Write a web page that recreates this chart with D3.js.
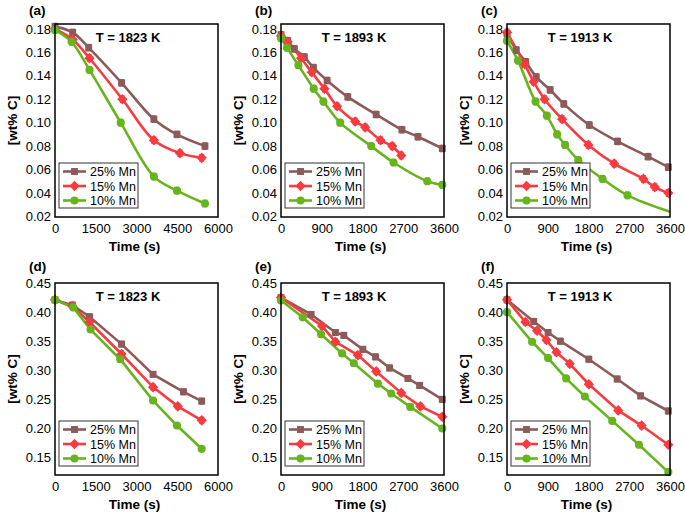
<!DOCTYPE html>
<html>
<head>
<meta charset="utf-8">
<script src="https://cdn.jsdelivr.net/npm/d3@7"></script>
<style>
  body { margin: 0; background: #fff; }
  text { font-family: "Liberation Sans", Arial, sans-serif; }
</style>
</head>
<body>
<div id="chart"></div>
<script>
// series + styling names
const seriesNames = ["25% Mn", "15% Mn", "10% Mn"];
const seriesColors = ["#8d5a5a", "#f73b40", "#68b41f"];
const panelLabels = ["(a)", "(b)", "(c)", "(d)", "(e)", "(f)"];
const tempLabels = ["T = 1823 K", "T = 1893 K", "T = 1913 K", "T = 1823 K", "T = 1893 K", "T = 1913 K"];

// tick labels
const xTicks6000 = [0, 1500, 3000, 4500, 6000];
const xTicks3600 = [0, 900, 1800, 2700, 3600];
const yTicksTop = [0.02, 0.04, 0.06, 0.08, 0.10, 0.12, 0.14, 0.16, 0.18];
const yTicksBottom = [0.15, 0.20, 0.25, 0.30, 0.35, 0.40, 0.45];

// (a) 1823 K, low C
const a25 = [[0,0.182],[650,0.177],[1240,0.164],[2450,0.134],[3640,0.103],[4490,0.090],[5520,0.080]];
const a15 = [[0,0.180],[650,0.171],[1270,0.155],[2480,0.120],[3640,0.085],[4600,0.074],[5400,0.070]];
const a10 = [[0,0.179],[610,0.169],[1270,0.145],[2420,0.100],[3640,0.054],[4490,0.042],[5520,0.031]];
// (b) 1893 K, low C
const b25 = [[0,0.175],[148,0.170],[295,0.163],[516,0.156],[716,0.147],[1018,0.136],[1475,0.122],[2102,0.107],[2670,0.094],[3025,0.088],[3563,0.078]];
const b15 = [[0,0.174],[148,0.169],[443,0.155],[679,0.143],[959,0.129],[1239,0.114],[1638,0.101],[1859,0.096],[2198,0.085],[2456,0.080],[2656,0.072]];
const b10 = [[0,0.172],[133,0.164],[384,0.149],[723,0.129],[937,0.118],[1306,0.100],[1992,0.080],[2486,0.066],[3231,0.050],[3563,0.047]];
// (c) 1913 K, low C
const c25 = [[0,0.176],[205,0.162],[411,0.152],[645,0.139],[953,0.128],[1254,0.116],[1818,0.098],[2441,0.084],[3116,0.071],[3563,0.062]];
const c15 = [[0,0.177],[389,0.150],[587,0.135],[829,0.120],[1217,0.103],[1796,0.081],[2368,0.065],[3013,0.052],[3263,0.045],[3563,0.040]];
const c10 = [[0,0.170],[242,0.153],[631,0.118],[880,0.106],[1107,0.090],[1283,0.081],[1576,0.068],[2111,0.052],[2661,0.038]];
const c10FitEnd = [[3600,0.024]];
// (d) 1823 K, high C
const d25 = [[0,0.421],[640,0.412],[1270,0.392],[2450,0.345],[3610,0.293],[4730,0.263],[5400,0.247]];
const d15 = [[0,0.421],[640,0.410],[1270,0.383],[2450,0.328],[3610,0.271],[4520,0.238],[5400,0.214]];
const d10 = [[0,0.421],[670,0.408],[1310,0.370],[2400,0.319],[3610,0.248],[4490,0.205],[5400,0.165]];
// (e) 1893 K, high C
const e25 = [[0,0.425],[664,0.396],[1202,0.365],[1387,0.360],[1807,0.336],[2088,0.323],[2398,0.304],[2803,0.286],[3061,0.274],[3563,0.250]];
const e15 = [[0,0.425],[907,0.376],[1202,0.349],[1697,0.326],[2102,0.298],[2656,0.261],[3077,0.238],[3563,0.220]];
const e10 = [[0,0.420],[480,0.391],[885,0.362],[1350,0.329],[1608,0.312],[2139,0.277],[2434,0.260],[2855,0.237],[3563,0.200]];
// (f) 1913 K, high C
const f25 = [[0,0.421],[590,0.384],[907,0.365],[1180,0.350],[1807,0.319],[2434,0.285],[2951,0.256],[3563,0.230]];
const f15 = [[0,0.421],[406,0.383],[664,0.368],[870,0.352],[1092,0.331],[1387,0.311],[1807,0.276],[2456,0.231],[2972,0.205],[3563,0.172]];
const f10 = [[0,0.400],[553,0.349],[907,0.321],[1306,0.286],[1719,0.255],[2324,0.213],[2914,0.172],[3563,0.125]];

const panels = [
  { data: [a25, a15, a10], xMax: 6000, xTicks: xTicks6000, top: true },
  { data: [b25, b15, b10], xMax: 3600, xTicks: xTicks3600, top: true },
  { data: [c25, c15, c10], xMax: 3600, xTicks: xTicks3600, top: true, tail: [null, null, c10FitEnd] },
  { data: [d25, d15, d10], xMax: 6000, xTicks: xTicks6000, top: false },
  { data: [e25, e15, e10], xMax: 3600, xTicks: xTicks3600, top: false },
  { data: [f25, f15, f10], xMax: 3600, xTicks: xTicks3600, top: false }
];

const W = 685, H = 516;
const colLeft = [55, 281, 507], plotW = 163;
const rowTop = [24, 283], plotH = [193, 192];

const svg = d3.select('#chart').append('svg')
  .attr('width', W).attr('height', H)
  .style('display', 'block');

// wide diamond like the original markers
const wideDiamond = {
  draw(ctx, size) {
    var r = Math.sqrt(size) * 0.68;
    ctx.moveTo(0, -r * 1.05);
    ctx.lineTo(r, 0);
    ctx.lineTo(0, r * 1.05);
    ctx.lineTo(-r, 0);
    ctx.closePath();
  }
};

const symbolFor = [
  d3.symbol().type(d3.symbolSquare).size(48),
  d3.symbol().type(wideDiamond).size(56),
  d3.symbol().type(d3.symbolCircle).size(52)
];

panels.forEach(function(p, i) {
  var col = i % 3, row = Math.floor(i / 3);
  var left = colLeft[col], top = rowTop[row], h = plotH[row];
  var g = svg.append('g').attr('transform', `translate(${left},${top})`);

  var x = d3.scaleLinear().domain([0, p.xMax]).range([0, plotW]);
  var y = p.top
    ? d3.scaleLinear().domain([0.0195, 0.1842]).range([h, 0])
    : d3.scaleLinear().domain([0.12, 0.45]).range([h, 0]);
  var err = p.top ? 0.0028 : 0.005;

  // axes (no visible ticks)
  g.append('g')
    .attr('transform', `translate(0,${h})`)
    .call(d3.axisBottom(x).tickValues(p.xTicks).tickSize(0).tickPadding(7).tickFormat(d3.format('d')))
    .call(a => a.select('.domain').remove())
    .selectAll('text').style('font-size', '13px').attr('fill', '#000');

  g.append('g')
    .call(d3.axisLeft(y).tickValues(p.top ? yTicksTop : yTicksBottom).tickSize(0).tickPadding(4).tickFormat(d3.format('.2f')))
    .call(a => a.select('.domain').remove())
    .selectAll('text').style('font-size', '13px').attr('fill', '#000');

  // clip for lines
  var clipId = 'clip' + i;
  g.append('clipPath').attr('id', clipId).append('rect')
    .attr('width', plotW).attr('height', h);

  var line = d3.line()
    .x(d => x(d[0])).y(d => y(d[1]))
    .curve(p.top ? d3.curveCatmullRom.alpha(0.5) : d3.curveLinear);

  p.data.forEach(function(pts, s) {
    var linePts = p.tail && p.tail[s] ? pts.concat(p.tail[s]) : pts;
    g.append('path')
      .attr('clip-path', `url(#${clipId})`)
      .attr('d', line(linePts))
      .attr('fill', 'none')
      .attr('stroke', seriesColors[s])
      .attr('stroke-width', 2.6);
  });

  p.data.forEach(function(pts, s) {
    var eb = g.append('g').attr('stroke', seriesColors[s]).attr('stroke-width', 1.1);
    pts.forEach(function(d) {
      var cx = x(d[0]), y1 = y(d[1] + err), y2 = y(d[1] - err);
      eb.append('line').attr('x1', cx).attr('x2', cx).attr('y1', y1).attr('y2', y2);
      eb.append('line').attr('x1', cx - 2.5).attr('x2', cx + 2.5).attr('y1', y1).attr('y2', y1);
      eb.append('line').attr('x1', cx - 2.5).attr('x2', cx + 2.5).attr('y1', y2).attr('y2', y2);
    });
    g.append('g').selectAll('path')
      .data(pts).enter().append('path')
      .attr('d', symbolFor[s])
      .attr('transform', d => `translate(${x(d[0])},${y(d[1])})`)
      .attr('fill', seriesColors[s]);
  });

  // frame
  g.append('rect')
    .attr('width', plotW).attr('height', h)
    .attr('fill', 'none').attr('stroke', '#000').attr('stroke-width', 1.5);

  // temperature label
  g.append('text')
    .attr('x', 73).attr('y', 18)
    .attr('text-anchor', 'middle')
    .style('font-size', '13px').style('font-weight', 'bold')
    .text(tempLabels[i]);

  // legend
  var lg = g.append('g').attr('transform', `translate(4,${h - 54})`);
  lg.append('rect')
    .attr('width', 79).attr('height', 45)
    .attr('fill', '#fff').attr('stroke', '#333').attr('stroke-width', 1);
  seriesNames.forEach(function(name, s) {
    var ly = 8.5 + s * 14.5;
    lg.append('line')
      .attr('x1', 4).attr('x2', 27).attr('y1', ly).attr('y2', ly)
      .attr('stroke', seriesColors[s]).attr('stroke-width', 2.6);
    lg.append('path')
      .attr('d', symbolFor[s])
      .attr('transform', `translate(15.5,${ly})`)
      .attr('fill', seriesColors[s]);
    lg.append('text')
      .attr('x', 31).attr('y', ly + 4.5)
      .style('font-size', '12.5px')
      .text(name);
  });

  // panel label
  svg.append('text')
    .attr('x', left - 26).attr('y', top - (row === 0 ? 9 : 12))
    .style('font-size', '13.5px').style('font-weight', 'bold')
    .text(panelLabels[i]);

  // axis titles
  svg.append('text')
    .attr('x', left + plotW / 2 - 2).attr('y', top + h + 34)
    .attr('text-anchor', 'middle')
    .style('font-size', '13.5px').style('font-weight', 'bold')
    .text('Time (s)');

  svg.append('text')
    .attr('transform', `translate(${left - 38},${top + h / 2}) rotate(-90)`)
    .attr('text-anchor', 'middle')
    .style('font-size', '13.5px').style('font-weight', 'bold')
    .text('[wt% C]');
});
</script>
</body>
</html>
